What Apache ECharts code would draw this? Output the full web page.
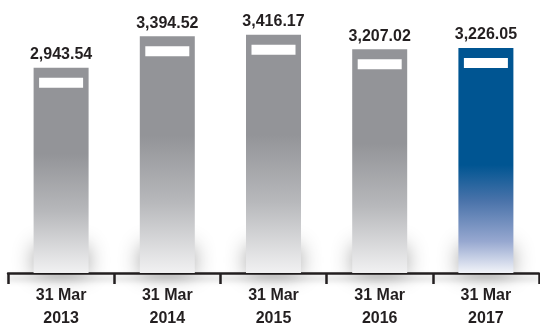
<!DOCTYPE html>
<html>
<head>
<meta charset="utf-8">
<script src="https://cdn.jsdelivr.net/npm/echarts@6/dist/echarts.min.js"></script>
<style>
  html, body { margin: 0; padding: 0; background: #ffffff; }
  #chart { width: 540px; height: 326px; }
</style>
</head>
<body>
<div id="chart"></div>
<script>
// Year-end figures, 31 March of each year
const periods = ['31 Mar\n2013', '31 Mar\n2014', '31 Mar\n2015', '31 Mar\n2016', '31 Mar\n2017'];
const amounts = [2943.54, 3394.52, 3416.17, 3207.02, 3226.05];
const highlightIndex = 4;

const TEXT = '#231f20';
const FONT = '"Liberation Sans", Arial, Helvetica, sans-serif';
const BAR_W = 55;

function fmt(v) {
  const parts = v.toFixed(2).split('.');
  parts[0] = parts[0].replace(/\B(?=(\d{3})+(?!\d))/g, ',');
  return parts.join('.');
}

const grey = new echarts.graphic.LinearGradient(0, 0, 0, 1, [
  { offset: 0, color: '#939498' },
  { offset: 0.42, color: '#939498' },
  { offset: 0.7, color: '#b7b8bb' },
  { offset: 1, color: '#f1f1f2' }
]);
const blue = new echarts.graphic.LinearGradient(0, 0, 0, 1, [
  { offset: 0, color: '#005592' },
  { offset: 0.52, color: '#005592' },
  { offset: 0.68, color: '#4a73aa' },
  { offset: 0.86, color: '#97a8d0' },
  { offset: 1, color: '#f2f4f9' }
]);

const barData = amounts.map((v, i) => ({
  value: v,
  itemStyle: { color: i === highlightIndex ? blue : grey }
}));

const chart = echarts.init(document.getElementById('chart'), null, { renderer: 'canvas' });
chart.setOption({
  animation: false,
  backgroundColor: '#ffffff',
  grid: { left: 8, right: 1, top: 8, bottom: 53, containLabel: false, outerBoundsMode: 'none' },
  xAxis: {
    type: 'category',
    data: periods,
    boundaryGap: true,
    axisLine: {
      lineStyle: {
        color: TEXT, width: 2.5,
        shadowColor: 'rgba(0,0,0,0.25)', shadowBlur: 6, shadowOffsetY: 5
      }
    },
    axisTick: { show: true, length: 11, lineStyle: { color: TEXT, width: 2.5 } },
    axisLabel: {
      color: TEXT, fontFamily: FONT, fontWeight: 'bold', fontSize: 16,
      lineHeight: 23, margin: 11
    }
  },
  yAxis: {
    type: 'value', min: 0, max: 3800,
    show: false, splitLine: { show: false }
  },
  series: [
    {
      // soft floor shadow at the base of each column
      type: 'custom',
      z: 1,
      silent: true,
      data: amounts.map((v, i) => [i, v]),
      renderItem: function (params, api) {
        const base = api.coord([api.value(0), 0]);
        return {
          type: 'rect',
          shape: { x: base[0] - BAR_W / 2 + 2, y: base[1] - 26, width: BAR_W - 4, height: 26 },
          style: { fill: '#ffffff', shadowBlur: 22, shadowColor: 'rgba(0,0,0,0.45)' }
        };
      }
    },
    {
      type: 'bar',
      z: 2,
      barWidth: BAR_W,
      data: barData,
      label: {
        show: true, position: 'top', distance: 5,
        color: TEXT, fontFamily: FONT, fontWeight: 'bold', fontSize: 16,
        formatter: p => fmt(p.value)
      }
    },
    {
      // white stripe near the top of each column
      type: 'custom',
      z: 3,
      silent: true,
      data: amounts.map((v, i) => [i, v]),
      renderItem: function (params, api) {
        const top = api.coord([api.value(0), api.value(1)]);
        return {
          type: 'rect',
          shape: { x: top[0] - 22, y: top[1] + 10, width: 44, height: 10 },
          style: { fill: '#ffffff' }
        };
      }
    }
  ]
});
</script>
</body>
</html>
